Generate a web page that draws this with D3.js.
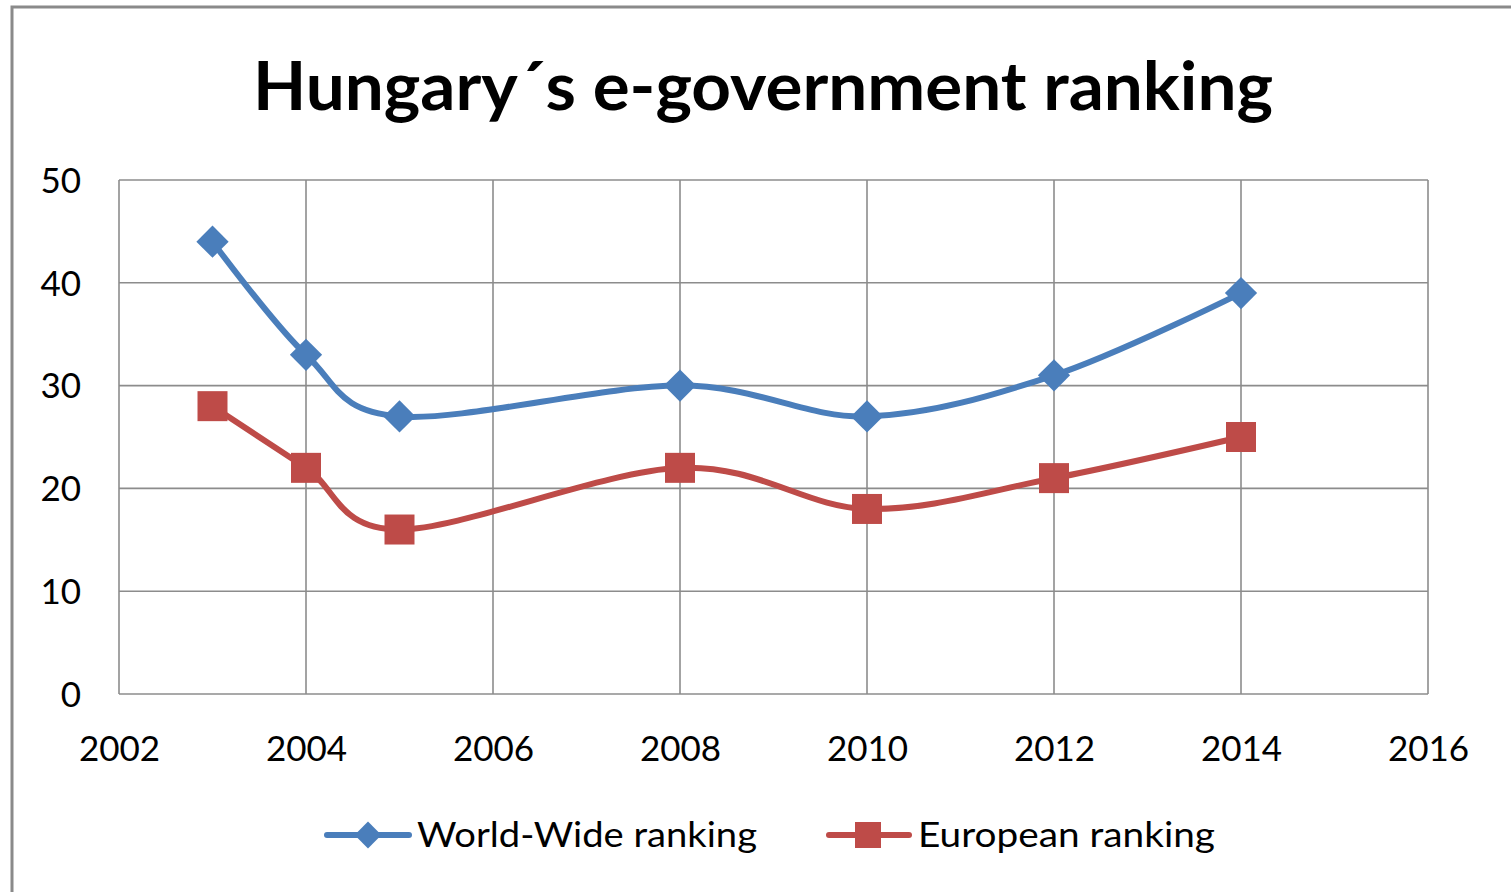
<!DOCTYPE html>
<html>
<head>
<meta charset="utf-8">
<script src="https://cdn.jsdelivr.net/npm/d3@7"></script>
<style>
  html, body { margin: 0; padding: 0; background: #fff; }
  svg { display: block; }
  text { font-family: Lato, "Open Sans", sans-serif; fill: #000; }
</style>
</head>
<body>
<svg id="chart" width="1511" height="892"></svg>
<script>
// ---- data ----
const years = [2003, 2004, 2005, 2008, 2010, 2012, 2014];
const worldWide = [44, 33, 27, 30, 27, 31, 39];
const european = [28, 22, 16, 22, 18, 21, 25];
const seriesNames = ["World-Wide ranking", "European ranking"];
const xTicks = [2002, 2004, 2006, 2008, 2010, 2012, 2014, 2016];
const yTicks = [0, 10, 20, 30, 40, 50];
const titleText = "Hungary\u00b4s e-government ranking";

// ---- layout ----
const svg = d3.select("#chart");
const W = 1511, H = 892;
const plot = { left: 119, right: 1428, top: 180, bottom: 694 };
const blue = "#4A7EBB", red = "#BE4B48", grid = "#8C8C8C";

// frame
svg.append("rect").attr("x", 12).attr("y", 7).attr("width", W + 20).attr("height", H + 20)
  .attr("fill", "#fff").attr("stroke", "#8A8A8A").attr("stroke-width", 3);

const x = d3.scaleLinear().domain([2002, 2016]).range([plot.left, plot.right]);
const y = d3.scaleLinear().domain([0, 50]).range([plot.bottom, plot.top]);

// title
svg.append("text").attr("x", 763).attr("y", 110).attr("text-anchor", "middle")
  .attr("font-size", 66).attr("font-weight", "bold")
  .attr("textLength", 1020).attr("lengthAdjust", "spacingAndGlyphs")
  .text(titleText);

// gridlines
const g = svg.append("g");
g.selectAll("line.h").data(yTicks).join("line").attr("class", "h")
  .attr("x1", plot.left).attr("x2", plot.right)
  .attr("y1", d => y(d)).attr("y2", d => y(d))
  .attr("stroke", grid).attr("stroke-width", 1.6);
g.selectAll("line.v").data(xTicks).join("line").attr("class", "v")
  .attr("x1", d => x(d)).attr("x2", d => x(d))
  .attr("y1", plot.top).attr("y2", plot.bottom)
  .attr("stroke", grid).attr("stroke-width", 1.6);

// axes labels via d3 axes
const yAxis = d3.axisLeft(y).tickValues(yTicks).tickSize(0).tickPadding(38);
const ya = svg.append("g").attr("transform", `translate(${plot.left},0)`).call(yAxis);
ya.select(".domain").remove();
ya.selectAll("text").attr("font-size", 35).attr("font-family", "Lato, sans-serif").attr("fill", "#000")
  .attr("dy", "0.35em");

const xAxis = d3.axisBottom(x).tickValues(xTicks).tickFormat(d3.format("d")).tickSize(0).tickPadding(42);
const xa = svg.append("g").attr("transform", `translate(0,${plot.bottom})`).call(xAxis);
xa.select(".domain").remove();
xa.selectAll("text").attr("font-size", 35).attr("font-family", "Lato, sans-serif").attr("fill", "#000")
  .attr("dy", "0.71em");

// lines
const line = d3.line().x(d => x(d[0])).y(d => y(d[1])).curve(d3.curveCatmullRom.alpha(0));
const wwData = years.map((yr, i) => [yr, worldWide[i]]);
const euData = years.map((yr, i) => [yr, european[i]]);

svg.append("path").datum(wwData).attr("d", line).attr("fill", "none")
  .attr("stroke", blue).attr("stroke-width", 6).attr("stroke-linejoin", "round").attr("stroke-linecap", "round");
svg.append("path").datum(euData).attr("d", line).attr("fill", "none")
  .attr("stroke", red).attr("stroke-width", 6).attr("stroke-linejoin", "round").attr("stroke-linecap", "round");

const square = d3.symbol().type(d3.symbolSquare).size(900);

svg.selectAll("path.ww").data(wwData).join("path").attr("class", "ww")
  .attr("d", d3.symbol().type(d3.symbolSquare).size(520))
  .attr("transform", d => `translate(${x(d[0])},${y(d[1])}) rotate(45)`)
  .attr("fill", blue);
svg.selectAll("path.eu").data(euData).join("path").attr("class", "eu")
  .attr("d", square)
  .attr("transform", d => `translate(${x(d[0])},${y(d[1])})`)
  .attr("fill", red);

// legend
const legY = 835;
const leg = svg.append("g");
leg.append("line").attr("x1", 327).attr("x2", 409).attr("y1", legY).attr("y2", legY)
  .attr("stroke", blue).attr("stroke-width", 6).attr("stroke-linecap", "round");
leg.append("path").attr("d", d3.symbol().type(d3.symbolSquare).size(360))
  .attr("transform", `translate(368,${legY}) rotate(45)`).attr("fill", blue);
leg.append("text").attr("x", 417).attr("y", legY + 12).attr("font-size", 35)
  .attr("textLength", 340).attr("lengthAdjust", "spacingAndGlyphs").text(seriesNames[0]);

leg.append("line").attr("x1", 829).attr("x2", 909).attr("y1", legY).attr("y2", legY)
  .attr("stroke", red).attr("stroke-width", 6).attr("stroke-linecap", "round");
leg.append("path").attr("d", d3.symbol().type(d3.symbolSquare).size(676))
  .attr("transform", `translate(868,${legY})`).attr("fill", red);
leg.append("text").attr("x", 918).attr("y", legY + 12).attr("font-size", 35)
  .attr("textLength", 297).attr("lengthAdjust", "spacingAndGlyphs").text(seriesNames[1]);
</script>
</body>
</html>
